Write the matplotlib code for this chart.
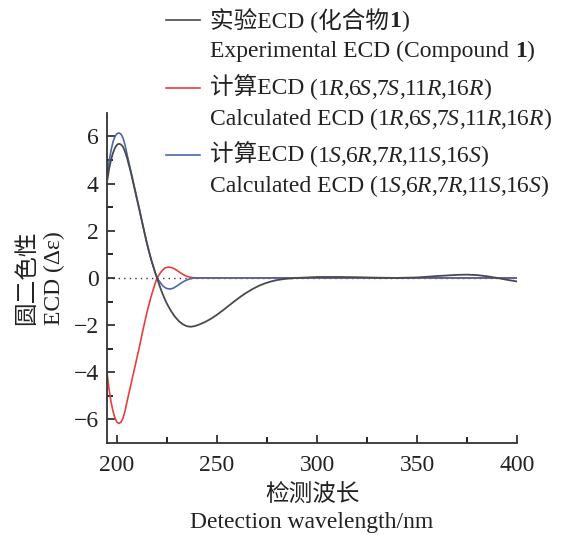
import matplotlib
matplotlib.use('Agg')
import matplotlib.pyplot as plt
from matplotlib.lines import Line2D

plt.rcParams['font.family'] = ['Liberation Serif', 'Noto Sans CJK SC']

# Experimental ECD (compound 1)
exp_nm = [195, 196, 197, 198, 199, 200, 201, 202, 203, 204, 205, 207, 209, 211, 213, 215, 217, 219, 220,
          221, 222, 223, 224, 225, 227, 229, 231, 233, 235, 237, 239, 241, 244, 247, 250, 253, 256, 259,
          262, 265, 268, 271, 274, 277, 280, 284, 290, 300, 310, 320, 330, 340, 350, 360, 370, 375, 380,
          385, 390, 395, 400]
exp_cd = [4.05, 4.6, 5.0, 5.3, 5.52, 5.65, 5.69, 5.66, 5.56, 5.36, 5.1, 4.45, 3.7, 2.95, 2.2, 1.45, 0.8, 0.25, 0.0,
          -0.26, -0.5, -0.72, -0.92, -1.1, -1.4, -1.65, -1.84, -1.97, -2.05, -2.07, -2.04, -1.98, -1.87, -1.73, -1.56, -1.37, -1.17, -0.97,
          -0.78, -0.61, -0.46, -0.33, -0.23, -0.15, -0.09, -0.04, 0.0, 0.04, 0.04, 0.03, 0.01, 0.0, 0.02, 0.08, 0.13, 0.14, 0.12,
          0.07, 0.0, -0.08, -0.15]

# Calculated ECD (1R,6S,7S,11R,16R)
red_nm = [195, 196, 197, 198, 199, 200, 201, 202, 203, 204, 205, 207, 209, 211, 213, 215, 217, 219, 220,
          221, 222, 223, 224, 225, 226, 228, 230, 232, 234, 236, 238, 240, 400]
red_cd = [-4.0, -4.7, -5.25, -5.65, -5.95, -6.12, -6.17, -6.12, -5.95, -5.65, -5.25, -4.5, -3.75, -3.0, -2.2, -1.45, -0.8, -0.25, 0.0,
          0.13, 0.25, 0.35, 0.42, 0.45, 0.46, 0.42, 0.32, 0.2, 0.1, 0.04, 0.01, 0.0, 0.0]

# Calculated ECD (1S,6R,7R,11S,16S)
blue_nm = [195, 196, 197, 198, 199, 200, 201, 202, 203, 204, 205, 207, 209, 211, 213, 215, 217, 219, 220,
           221, 222, 223, 224, 225, 226.5, 228, 230, 232, 234, 236, 238, 240, 400]
blue_cd = [4.3, 4.9, 5.4, 5.77, 6.0, 6.12, 6.15, 6.1, 5.94, 5.65, 5.25, 4.5, 3.75, 3.0, 2.2, 1.45, 0.8, 0.25, 0.0,
           -0.12, -0.24, -0.34, -0.41, -0.45, -0.47, -0.44, -0.34, -0.22, -0.12, -0.05, -0.01, 0.0, 0.0]

gray = '#4a4a4a'
red = '#e5403d'
blue = '#4b66ae'
txt = '#222222'
FS = 17

fig = plt.figure(figsize=(5.67, 5.35), dpi=100)
ax = fig.add_axes([0.1887, 0.172, 0.7233, 0.617])

ax.axhline(0, color='#333333', linestyle=(0, (1, 3)), linewidth=1.0, zorder=1)
ax.plot(exp_nm, exp_cd, color=gray, linewidth=1.3, zorder=3)
ax.plot(red_nm, red_cd, color=red, linewidth=1.2, zorder=2)
ax.plot(blue_nm, blue_cd, color=blue, linewidth=1.2, zorder=2)

ax.set_xlim(195, 400)
ax.set_ylim(-7, 7)
ax.set_xticks([200, 250, 300, 350, 400])
ax.set_xticks([225, 275, 325, 375], minor=True)
ax.set_yticks([-6, -4, -2, 0, 2, 4, 6])
ax.set_yticks([-5, -3, -1, 1, 3, 5], minor=True)
ax.set_yticklabels(['\u22126', '\u22124', '\u22122', '0', '2', '4', '6'])
ax.tick_params(direction='in', length=6, width=1.2, labelsize=FS, colors=txt, pad=6)
ax.tick_params(axis='x', pad=9)
ax.tick_params(which='minor', direction='in', length=4, width=1.2)
for s in ['top', 'right']:
    ax.spines[s].set_visible(False)
for s in ['left', 'bottom']:
    ax.spines[s].set_linewidth(1.3)
    ax.spines[s].set_color('#333333')

ax.set_xlabel('检测波长\nDetection wavelength/nm', fontsize=FS, color=txt, linespacing=1.35, labelpad=6)
ax.set_ylabel('圆二色性\nECD (Δε)', fontsize=FS, color=txt, linespacing=1.35, labelpad=6)

# legend drawn by hand: two text lines per entry, italic R/S and bold compound number
renderer = fig.canvas.get_renderer()
W, H = 567, 535


def rich_line(x_px, y_px, pieces):
    x = x_px / W
    for k, (s, style) in enumerate(pieces):
        t = fig.text(x, 1 - y_px / H, s, fontsize=FS, va='baseline', ha='left', color=txt,
                     style='italic' if style == 'i' else 'normal',
                     weight='bold' if style == 'b' else 'normal')
        bb = t.get_window_extent(renderer)
        tight = 1.5 if k + 1 < len(pieces) and pieces[k + 1][1] == 'i' else 0
        x += (bb.width - tight) / W


def config(c):
    # c like "1R,6S,7S,11R,16R"
    pieces = [('(', 'n')]
    for k, part in enumerate(c.split(',')):
        if k:
            pieces.append((',', 'n'))
        pieces.append((part[:-1], 'n'))
        pieces.append((part[-1], 'i'))
    pieces.append((')', 'n'))
    return pieces


entries = [
    (gray, [('实验ECD (化合物', 'n'), ('1', 'b'), (')', 'n')],
     [('Experimental ECD (Compound ', 'n'), ('1', 'b'), (')', 'n')], 20),
    (red, [('计算ECD ', 'n')] + config('1R,6S,7S,11R,16R'),
     [('Calculated ECD ', 'n')] + config('1R,6S,7S,11R,16R'), 88),
    (blue, [('计算ECD ', 'n')] + config('1S,6R,7R,11S,16S'),
     [('Calculated ECD ', 'n')] + config('1S,6R,7R,11S,16S'), 155),
]
for col, l1, l2, ypx in entries:
    fig.add_artist(Line2D([166 / W, 200 / W], [1 - ypx / H, 1 - ypx / H], color=col, linewidth=1.2))
    rich_line(210, ypx + 7, l1)
    rich_line(210, ypx + 37, l2)

fig.savefig('out.png', dpi=100)
